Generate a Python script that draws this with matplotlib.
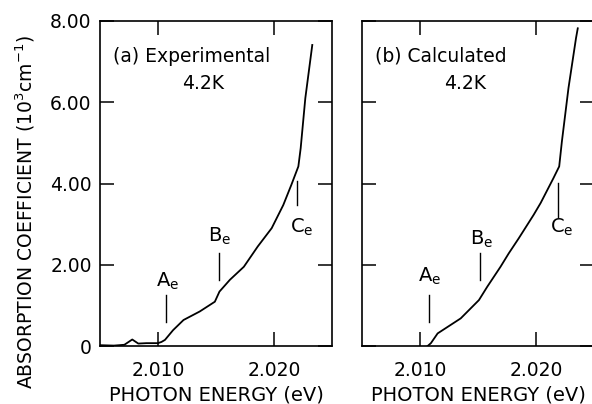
import numpy as np
import matplotlib
matplotlib.use("Agg")
import matplotlib.pyplot as plt

plt.rcParams['font.family'] = ['DejaVu Sans']
plt.rcParams['mathtext.default'] = 'regular'

# (a) experimental spectrum, photon energy (eV) vs absorption (10^3 cm^-1)
exp_energy = [2.0050, 2.0062, 2.0071, 2.00778, 2.0083, 2.0090, 2.0100, 2.0103,
              2.0106, 2.0113, 2.0122, 2.0136, 2.0149, 2.0153, 2.0162, 2.0174,
              2.0186, 2.0198, 2.0208, 2.0215, 2.0221, 2.0223, 2.0227, 2.0233]
exp_alpha = [0.02, 0.01, 0.03, 0.16, 0.06, 0.07, 0.07, 0.10,
             0.15, 0.39, 0.64, 0.85, 1.09, 1.34, 1.63, 1.95,
             2.45, 2.90, 3.47, 3.97, 4.42, 4.87, 6.10, 7.41]

# (b) calculated spectrum
calc_energy = [2.01066, 2.01094, 2.01152, 2.01351, 2.01508, 2.0158, 2.01694,
               2.01765, 2.01851, 2.0198, 2.0204, 2.0215, 2.0220, 2.02223,
               2.0228, 2.02345, 2.0236]
calc_alpha = [0.0, 0.07, 0.31, 0.68, 1.13, 1.46, 1.95,
              2.28, 2.65, 3.23, 3.52, 4.13, 4.42, 5.03,
              6.35, 7.58, 7.82]

# exciton markers A_e, B_e, C_e: energy, line bottom/top, label energy, label baseline
mark_names = ['A', 'B', 'C']
exp_mark_e = [2.01069, 2.01526, 2.02196]
exp_mark_lo = [0.60, 1.63, 3.47]
exp_mark_hi = [1.26, 2.29, 4.05]
exp_lab_e = [2.01086, 2.01534, 2.02239]
exp_lab_y = [1.47, 2.56, 2.80]

calc_mark_e = [2.01080, 2.01514, 2.02189]
calc_mark_lo = [0.60, 1.63, 3.18]
calc_mark_hi = [1.26, 2.29, 4.01]
calc_lab_e = [2.01086, 2.01531, 2.02223]
calc_lab_y = [1.58, 2.50, 2.80]

xticks = [2.010, 2.020]
xticklabels = ['2.010', '2.020']
yticks = [0, 2, 4, 6, 8]
yticklabels = ['0', '2.00', '4.00', '6.00', '8.00']

fig = plt.figure(figsize=(5.92, 4.04), dpi=100)
ax1 = fig.add_axes([100/592, 58/404, 232/592, 325/404])
ax2 = fig.add_axes([362/592, 58/404, 232/592, 325/404])


def setup(ax, show_ylabels):
    ax.set_xlim(2.005, 2.025)
    ax.set_ylim(0, 8)
    ax.set_xticks(xticks)
    ax.set_xticklabels(xticklabels)
    ax.set_yticks(yticks)
    if show_ylabels:
        ax.set_yticklabels(yticklabels)
    else:
        ax.set_yticklabels([])
    ax.tick_params(direction='in', length=10, width=1.1, top=True, right=True,
                   labelsize=13.5, color='black')
    ax.tick_params(axis='x', pad=11)
    ax.tick_params(axis='y', pad=6)
    for s in ax.spines.values():
        s.set_linewidth(1.2)
    ax.set_xlabel('PHOTON ENERGY (eV)', fontsize=14, labelpad=4)


def marks(ax, xs, lo, hi, lx, ly):
    for i, n in enumerate(mark_names):
        ax.plot([xs[i], xs[i]], [lo[i], hi[i]], color='black', lw=1.0)
        ax.text(lx[i], ly[i], '$' + n + '_e$', fontsize=14, ha='center',
                va='baseline')


setup(ax1, True)
ax1.plot(exp_energy, exp_alpha, color='black', lw=1.3)
marks(ax1, exp_mark_e, exp_mark_lo, exp_mark_hi, exp_lab_e, exp_lab_y)
ax1.text(0.056, 0.874, '(a) Experimental', transform=ax1.transAxes,
         fontsize=13.5, ha='left', va='baseline')
ax1.text(0.446, 0.791, '4.2K', transform=ax1.transAxes,
         fontsize=13.5, ha='center', va='baseline')

setup(ax2, False)
ax2.plot(calc_energy, calc_alpha, color='black', lw=1.3)
marks(ax2, calc_mark_e, calc_mark_lo, calc_mark_hi, calc_lab_e, calc_lab_y)
ax2.text(0.056, 0.874, '(b) Calculated', transform=ax2.transAxes,
         fontsize=13.5, ha='left', va='baseline')
ax2.text(0.446, 0.791, '4.2K', transform=ax2.transAxes,
         fontsize=13.5, ha='center', va='baseline')

fig.text(25/592, 1 - 212/404, 'ABSORPTION COEFFICIENT (10$^{3}$cm$^{-1}$)',
         rotation=90, fontsize=13.5, ha='center', va='center')

fig.savefig('out.png', dpi=100)
